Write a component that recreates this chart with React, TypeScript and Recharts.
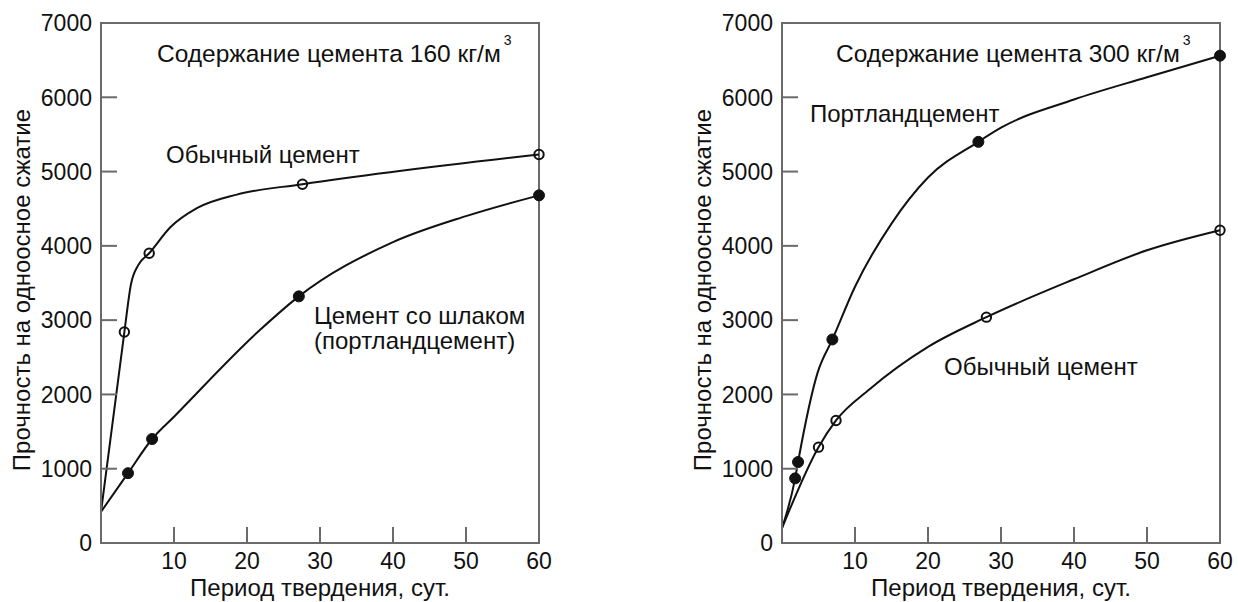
import React from 'react'
import { ComposedChart, Line, XAxis, YAxis, ReferenceArea, Label } from 'recharts'

/* Прочность бетона во времени — два графика (160 и 300 кг/м3) */

const FONT = '"Liberation Sans", Arial, sans-serif'
const INK = '#111'
const AXIS = '#6a6a6a'
const TICK_LEN = 16

const dayTicks = [10, 20, 30, 40, 50, 60]
const strengthTicks = [0, 1000, 2000, 3000, 4000, 5000, 6000, 7000]

// 160 кг/м3 — точки замеров
const ordinary160Days = [3.2, 6.6, 27.6, 60]
const ordinary160Strength = [2840, 3900, 4830, 5230]
const slag160Days = [3.7, 7.0, 27.1, 60]
const slag160Strength = [940, 1400, 3320, 4680]
// 160 кг/м3 — линии
const ordinary160CurveDays = [0, 3.2, 4.1, 5.1, 6.6, 9.5, 13.2, 18.6, 27.6, 60]
const ordinary160CurveStrength = [420, 2840, 3480, 3740, 3900, 4250, 4510, 4690, 4830, 5230]
const slag160CurveDays = [0, 3.7, 7.0, 10, 21.8, 27.1, 40, 50, 60]
const slag160CurveStrength = [420, 940, 1400, 1700, 2870, 3320, 4050, 4400, 4680]

// 300 кг/м3 — точки замеров
const portland300Days = [1.8, 2.2, 6.9, 26.9, 60]
const portland300Strength = [870, 1090, 2740, 5400, 6560]
const ordinary300Days = [5.0, 7.4, 28.0, 60]
const ordinary300Strength = [1290, 1650, 3040, 4210]
// 300 кг/м3 — линии
const portland300CurveDays = [0, 1.8, 2.2, 4.9, 6.9, 10, 15, 20, 26.9, 30, 40, 50, 60]
const portland300CurveStrength = [200, 870, 1090, 2300, 2740, 3450, 4300, 4920, 5400, 5590, 5970, 6270, 6560]
const ordinary300CurveDays = [0, 5.0, 7.4, 12, 20, 28.0, 40, 50, 60]
const ordinary300CurveStrength = [200, 1290, 1650, 2070, 2640, 3040, 3550, 3940, 4210]

const zip = (days: number[], vals: number[]) => days.map((day, i) => ({ day, strength: vals[i] }))

function StrengthTick({ x, y, payload }: any) {
  const v = payload.value
  const axisX = x + 9
  return (
    <g>
      {v > 0 && v < 7000 && (
        <line x1={axisX} x2={axisX + TICK_LEN} y1={y} y2={y} stroke={AXIS} strokeWidth={2} />
      )}
      <text x={x} y={y} dy="0.36em" textAnchor="end" fontSize={23} fontFamily={FONT} fill={INK}>
        {v}
      </text>
    </g>
  )
}

function DayTick({ x, y, payload }: any) {
  return (
    <g>
      <line x1={x} x2={x} y1={y} y2={y - TICK_LEN} stroke={AXIS} strokeWidth={2} />
      <text x={x} y={y + 18} dy="0.36em" textAnchor="middle" fontSize={23} fontFamily={FONT} fill={INK}>
        {payload.value}
      </text>
    </g>
  )
}

interface Note {
  lines: string[]
  x: number
  y: number
}

interface PanelProps {
  width: number
  cement: number
  titleX: number
  notes: Note[]
  curves: { day: number; strength: number }[][]
  markers: { data: { day: number; strength: number }[]; filled: boolean }[]
}

function StrengthPanel({ width, cement, titleX, notes, curves, markers }: PanelProps) {
  const plotRight = 539
  const drawText = () => (
    <g fontFamily={FONT} fill={INK}>
      <text x={titleX} y={62} fontSize={24.5}>
        {`Содержание цемента ${cement} кг/м`}
        <tspan dx={3} dy={-17} fontSize={14}>3</tspan>
      </text>
      {notes.map((n, i) => (
        <text key={i} x={n.x} y={n.y} fontSize={24}>
          {n.lines.map((l, j) => (
            <tspan key={j} x={n.x} dy={j === 0 ? 0 : 25}>{l}</tspan>
          ))}
        </text>
      ))}
      <text x={30} y={290} fontSize={24} textAnchor="middle" transform="rotate(-90 30 290)">
        Прочность на одноосное сжатие
      </text>
      <text x={320} y={596} fontSize={24} textAnchor="middle">
        Период твердения, сут.
      </text>
    </g>
  )

  return (
    <ComposedChart
      width={width}
      height={602}
      margin={{ top: 23, right: width - plotRight, bottom: 0, left: 0 }}
    >
      <XAxis
        type="number"
        dataKey="day"
        domain={[0, 60]}
        ticks={dayTicks}
        height={59}
        tickSize={0}
        tickMargin={0}
        tickLine={false}
        tick={<DayTick />}
        axisLine={{ stroke: AXIS, strokeWidth: 2 }}
      >
        <Label content={drawText} />
      </XAxis>
      <YAxis
        type="number"
        dataKey="strength"
        domain={[0, 7000]}
        ticks={strengthTicks}
        width={101}
        tickSize={0}
        tickMargin={9}
        tickLine={false}
        tick={<StrengthTick />}
        axisLine={{ stroke: AXIS, strokeWidth: 2 }}
      />
      <ReferenceArea x1={0} x2={60} y1={0} y2={7000} fill="none" stroke={AXIS} strokeWidth={2} />
      {curves.map((c, i) => (
        <Line
          key={`c${i}`}
          data={c}
          dataKey="strength"
          type="monotone"
          stroke={INK}
          strokeWidth={2}
          dot={false}
          activeDot={false}
          isAnimationActive={false}
        />
      ))}
      {markers.map((m, i) => (
        <Line
          key={`m${i}`}
          data={m.data}
          dataKey="strength"
          stroke="none"
          dot={
            m.filled
              ? { r: 5.5, fill: INK, stroke: INK, strokeWidth: 1 }
              : { r: 4.7, fill: 'none', stroke: INK, strokeWidth: 2 }
          }
          activeDot={false}
          isAnimationActive={false}
        />
      ))}
    </ComposedChart>
  )
}

export default function App() {
  return (
    <div
      style={{
        position: 'absolute',
        left: 0,
        top: 0,
        width: 1238,
        height: 602,
        overflow: 'hidden',
        background: '#fff',
      }}
    >
      <div style={{ position: 'absolute', left: 0, top: 0 }}>
        <StrengthPanel
          width={620}
          cement={160}
          titleX={157}
          notes={[
            { lines: ['Обычный цемент'], x: 166, y: 163 },
            { lines: ['Цемент со шлаком', '(портландцемент)'], x: 314, y: 324 },
          ]}
          curves={[
            zip(ordinary160CurveDays, ordinary160CurveStrength),
            zip(slag160CurveDays, slag160CurveStrength),
          ]}
          markers={[
            { data: zip(ordinary160Days, ordinary160Strength), filled: false },
            { data: zip(slag160Days, slag160Strength), filled: true },
          ]}
        />
      </div>
      <div style={{ position: 'absolute', left: 681, top: 0 }}>
        <StrengthPanel
          width={557}
          cement={300}
          titleX={155}
          notes={[
            { lines: ['Портландцемент'], x: 129, y: 122 },
            { lines: ['Обычный цемент'], x: 263, y: 375 },
          ]}
          curves={[
            zip(portland300CurveDays, portland300CurveStrength),
            zip(ordinary300CurveDays, ordinary300CurveStrength),
          ]}
          markers={[
            { data: zip(portland300Days, portland300Strength), filled: true },
            { data: zip(ordinary300Days, ordinary300Strength), filled: false },
          ]}
        />
      </div>
    </div>
  )
}
